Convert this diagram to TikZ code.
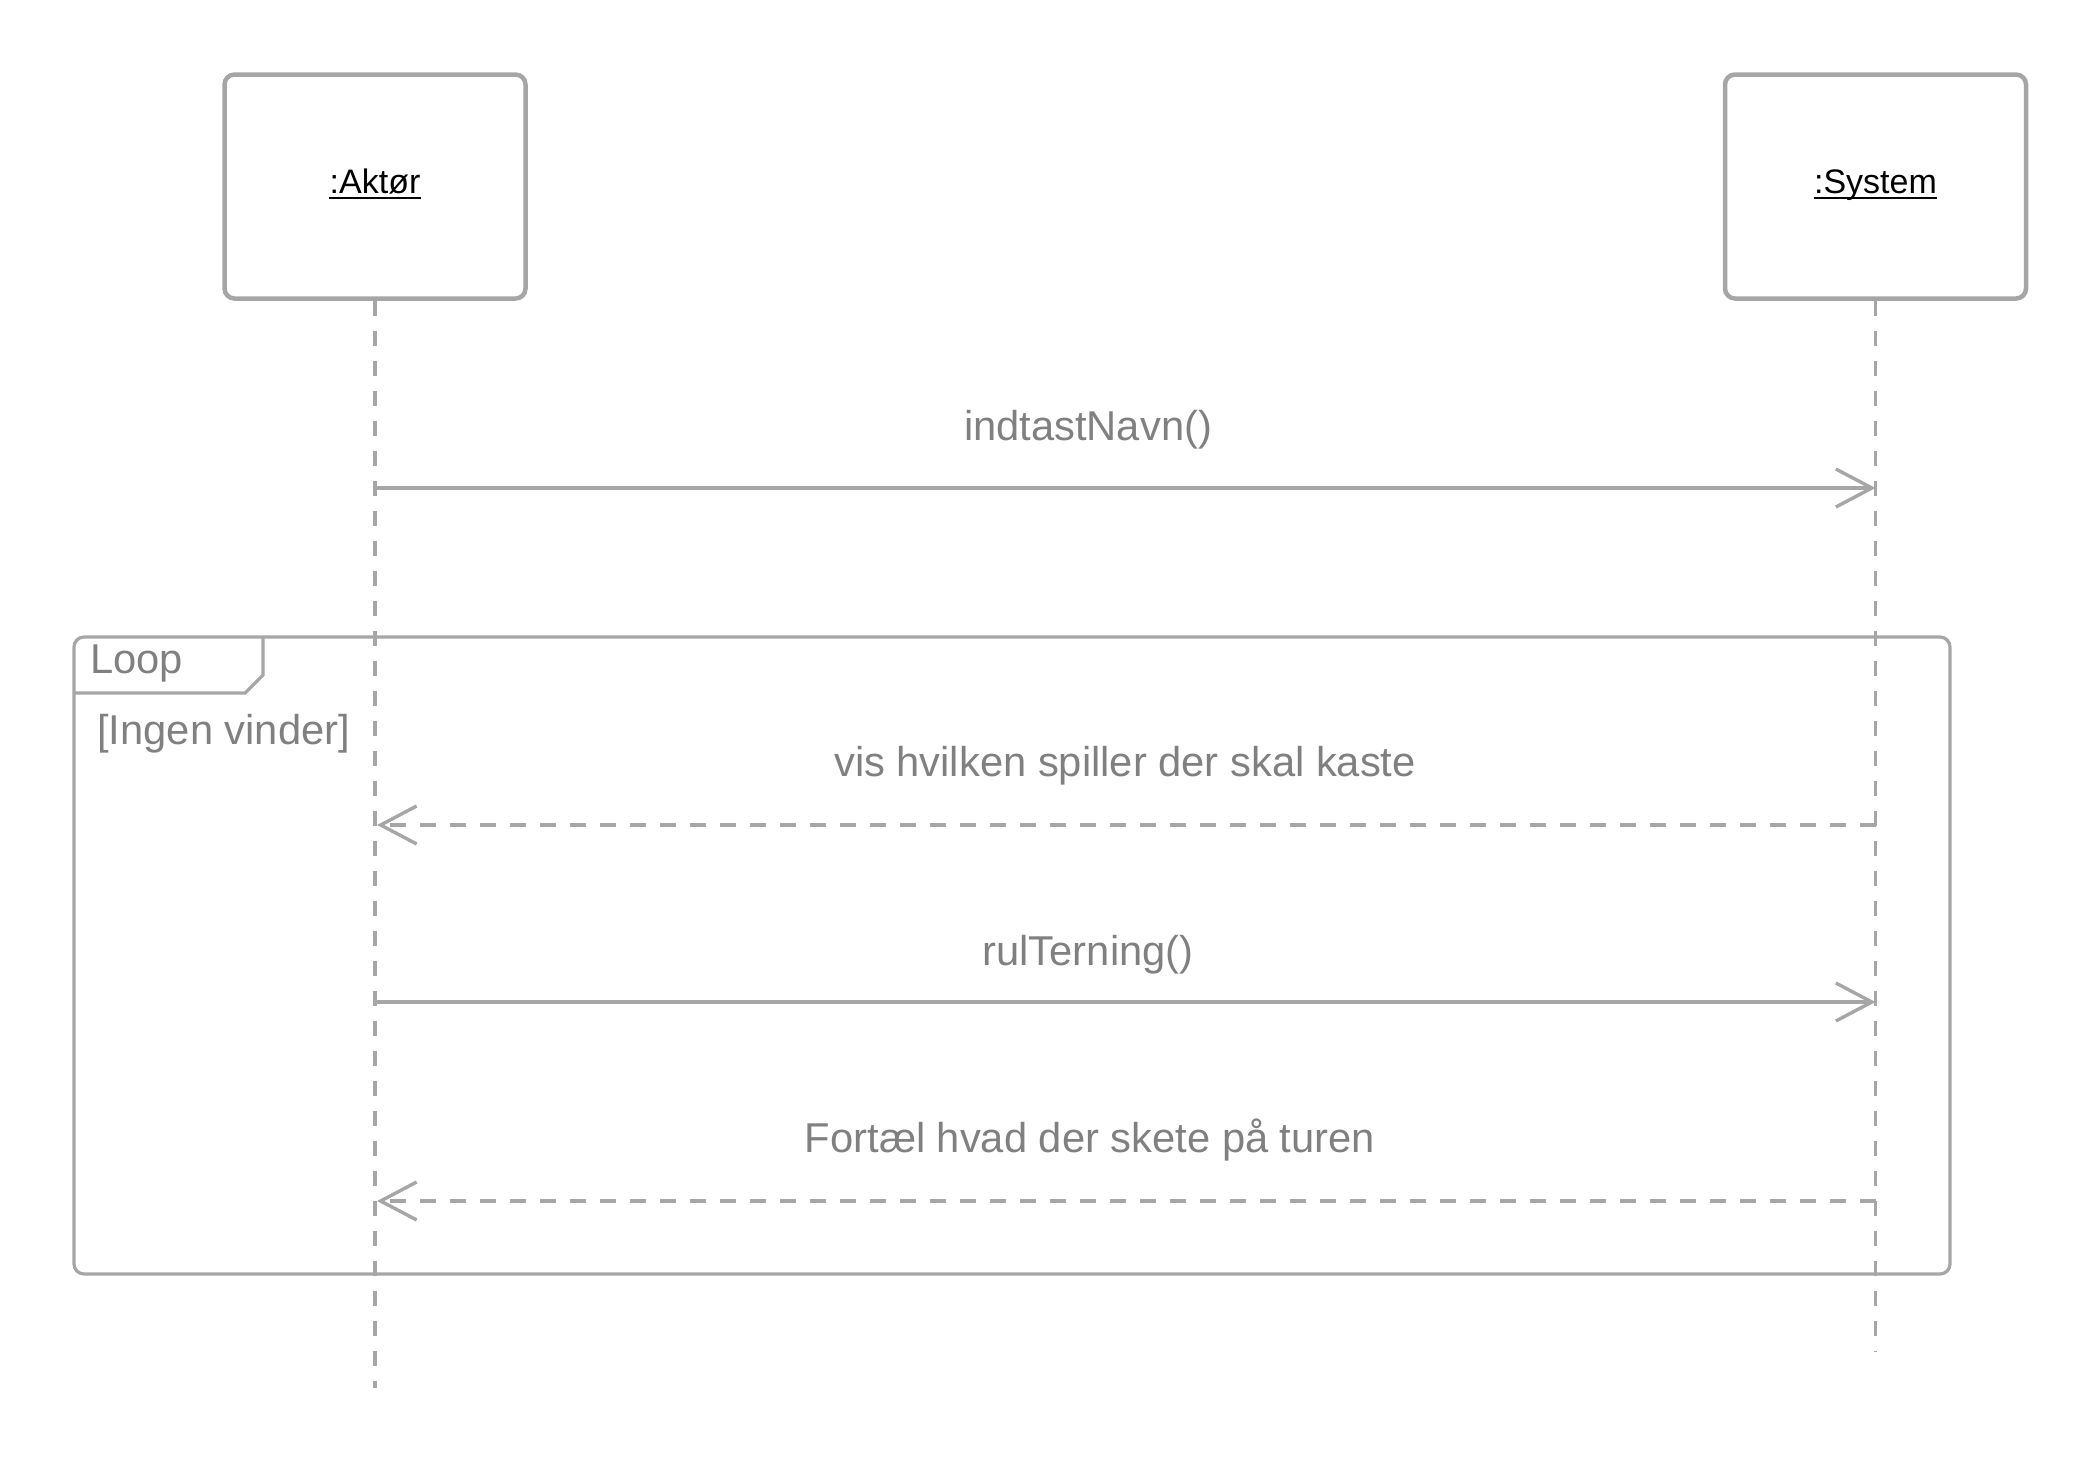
\documentclass[tikz,border=0pt]{standalone}
\usepackage{fontspec}
\setmainfont{Liberation Sans}
\usetikzlibrary{arrows.meta}
\definecolor{ln}{RGB}{166,166,166}
\definecolor{tx}{RGB}{128,128,128}
\begin{document}
\begin{tikzpicture}[x=0.5pt,y=-0.5pt,
  lifebox/.style={draw=ln, line width=2.25pt, rounded corners=5pt, minimum width=150.5pt, minimum height=112pt, inner sep=0pt, fill=white},
  objname/.style={font=\fontsize{17pt}{20pt}\selectfont, text=black, inner sep=0pt, anchor=base},
  uline/.style={draw=black, line width=1pt},
  lifeline/.style={draw=ln, line width=1.9pt, dash pattern=on 7.5pt off 7.5pt},
  msg/.style={draw=ln, line width=1.7pt, -{Straight Barb[length=18pt,width=19pt]}},
  reply/.style={msg, dash pattern=on 8pt off 7pt},
  lbl/.style={font=\fontsize{20.85pt}{24pt}\selectfont, text=tx, inner sep=0pt, anchor=base},
  frame/.style={draw=ln, line width=1.6pt}]
\useasboundingbox (0,0) rectangle (2100,1463);
% lifeline heads
\node[lifebox] (aBox) at (375,186.5) {};
\node[lifebox] (sBox) at (1875.5,186.5) {};
\node[objname] (aName) at (375,193) {:Aktør};
\node[objname] (sName) at (1875.5,193) {:System};
\draw[uline] ([yshift=-2.5pt]aName.base west) -- ([yshift=-2.5pt]aName.base east);
\draw[uline] ([yshift=-2.5pt]sName.base west) -- ([yshift=-2.5pt]sName.base east);
% lifelines
\coordinate (aEnd) at (375,1388);
\coordinate (sEnd) at (1875.5,1352);
\draw[lifeline] (aBox.south) -- (aEnd);
\draw[lifeline] (sBox.south) -- (sEnd);
% loop frame
\draw[frame, rounded corners=5pt] (74,637) rectangle (1950,1274);
\draw[frame] (74,693) -- (245,693) -- (263,675) -- (263,637);
\node[lbl, anchor=base west] (loopT) at (90,673) {Loop};
\node[lbl, anchor=base west] (guard) at (97,744) {[Ingen vinder]};
% messages
\coordinate (m1a) at (375,488);  \coordinate (m1s) at (1875.5,488);
\coordinate (m2a) at (377,825);  \coordinate (m2s) at (1875.5,825);
\coordinate (m3a) at (375,1002); \coordinate (m3s) at (1875.5,1002);
\coordinate (m4a) at (377,1201); \coordinate (m4s) at (1875.5,1201);
\draw[msg] (m1a) -- (m1s);
\draw[reply] (m2s) -- (m2a);
\draw[msg] (m3a) -- (m3s);
\draw[reply] (m4s) -- (m4a);
\node[lbl] (l1) at (1088,440) {indtastNavn()};
\node[lbl] (l2) at (1125,776) {vis hvilken spiller der skal kaste};
\node[lbl] (l3) at (1088,965) {rulTerning()};
\node[lbl] (l4) at (1090,1152) {Fortæl hvad der skete på turen};
\end{tikzpicture}
\end{document}
